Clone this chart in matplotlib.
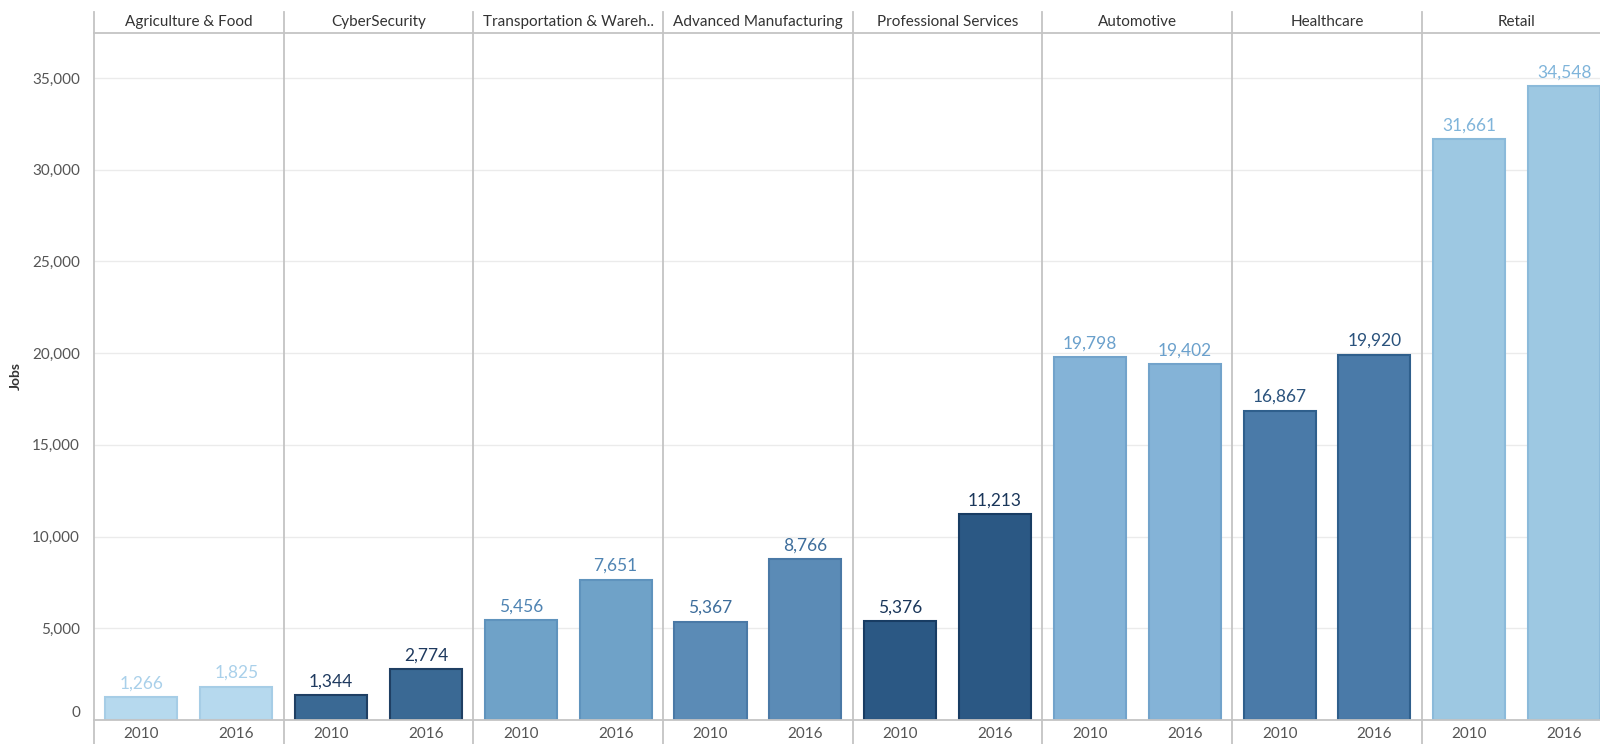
import numpy as np
import matplotlib.pyplot as plt
import matplotlib.transforms as mtransforms

categories = ['Agriculture & Food', 'CyberSecurity', 'Transportation & Wareh..',
              'Advanced Manufacturing', 'Professional Services', 'Automotive',
              'Healthcare', 'Retail']
years = ['2010', '2016']
jobs_2010 = [1266, 1344, 5456, 5367, 5376, 19798, 16867, 31661]
jobs_2016 = [1825, 2774, 7651, 8766, 11213, 19402, 19920, 34548]

bar_colors = ['#b6d9ee', '#3a6994', '#6fa2c8', '#5b8bb6', '#2b5884', '#84b3d7', '#4a7aa8', '#9dc8e2']
edge_colors = ['#a6cde6', '#1f3f63', '#5f93bd', '#4a79a6', '#183c63', '#72a3cb', '#2f5f8c', '#8bbada']
label_colors = ['#a9d0ea', '#1f3a5f', '#4f84b3', '#3d6d9b', '#1a365a', '#6aa0cc', '#2a527c', '#7fb4da']

plt.rcParams['font.family'] = ['Lato', 'DejaVu Sans']

W, H = 1600, 744
fig = plt.figure(figsize=(W / 100, H / 100), dpi=100)
ax_left, ax_bottom, ax_top = 94, 720, 33
ax = fig.add_axes([ax_left / W, (H - ax_bottom) / H, 1 - ax_left / W, (ax_bottom - ax_top) / H])

ax.set_ylim(0, 37450)
ax.set_xlim(-0.5, 15.378)

grid_c = '#ebebeb'
sep_c = '#c4c4c4'
for v in range(5000, 40000, 5000):
    ax.axhline(v, color=grid_c, lw=1, zorder=0)

xs, heights, cols, ecols, lcols, xlabels = [], [], [], [], [], []
for i, cat in enumerate(categories):
    for j, vals in enumerate([jobs_2010, jobs_2016]):
        xs.append(2 * i + j)
        heights.append(vals[i])
        cols.append(bar_colors[i])
        ecols.append(edge_colors[i])
        lcols.append(label_colors[i])
        xlabels.append(years[j])

ax.bar(xs, heights, width=0.76, color=cols, edgecolor=ecols, linewidth=1.5, zorder=2)
for x, h, c in zip(xs, heights, lcols):
    ax.annotate(f'{h:,}', (x, h), xytext=(0, 4), textcoords='offset points',
                ha='center', va='bottom', fontsize=12.5, color=c)

# panel separators and header
trans = mtransforms.blended_transform_factory(ax.transData, ax.transAxes)
y_lo = -(H - ax_bottom) / (ax_bottom - ax_top)
y_hi = (ax_bottom - 12) / (ax_bottom - ax_top)
for i in range(len(categories)):
    xb = 2 * i - 0.5
    ax.plot([xb, xb], [y_lo, y_hi], transform=trans, color=sep_c, lw=1.3,
            clip_on=False, zorder=3)
    ax.text(2 * i + 0.5, 1 + 11 / (ax_bottom - ax_top), categories[i], transform=trans,
            ha='center', va='center', fontsize=11, color='#333333')

for s in ['left', 'right']:
    ax.spines[s].set_visible(False)
ax.spines['top'].set_color(sep_c)
ax.spines['top'].set_linewidth(1.3)
ax.spines['bottom'].set_color(sep_c)
ax.spines['bottom'].set_linewidth(1.3)

ax.set_xticks(xs)
ax.set_xticklabels(xlabels, fontsize=11, color='#555555')
ax.tick_params(axis='x', length=0, pad=5)

yt = list(range(0, 40000, 5000))
ax.set_yticks(yt)
ax.set_yticklabels([f'{v:,}' for v in yt], fontsize=11, color='#555555')
ax.tick_params(axis='y', length=0, pad=10)
ax.get_yticklabels()[0].set_va('bottom')

fig.text(16 / W, 1 - 376 / H, 'Jobs', rotation=90, ha='center', va='center',
         fontsize=10, fontweight='bold', color='#333333')

plt.savefig('out.png', dpi=100)
